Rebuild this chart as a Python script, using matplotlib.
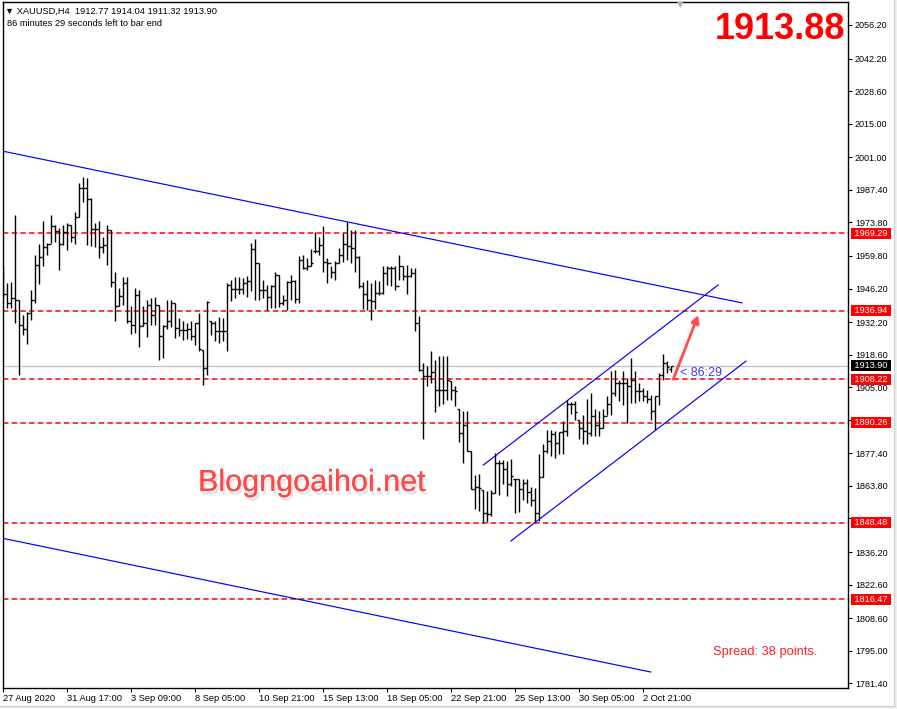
import numpy as np
import matplotlib
matplotlib.use('Agg')
from matplotlib import pyplot as plt
from matplotlib import transforms
from matplotlib import patheffects
from matplotlib.patches import Rectangle

plt.rcParams['font.family'] = ['Liberation Sans', 'DejaVu Sans']

# XAUUSD H4 bars
highs = [1955.4, 1948.5, 1949.1, 1977.0, 1941.5, 1935.2, 1936.6, 1945.7, 1960.3, 1964.8,
         1974.2, 1965.1, 1977.0, 1972.8, 1971.4, 1972.8, 1973.5, 1972.8, 1978.3, 1990.1,
         1992.9, 1992.2, 1983.9, 1973.5, 1974.2, 1967.9, 1972.8, 1970.7, 1953.3, 1946.4,
         1951.2, 1951.2, 1939.0, 1946.4, 1945.7, 1938.7, 1941.2, 1942.2, 1942.6, 1939.4,
         1931.1, 1941.5, 1941.2, 1940.1, 1933.9, 1932.5, 1931.8, 1932.5, 1931.8, 1935.9,
         1920.7, 1940.8, 1932.5, 1932.5, 1934.5, 1933.9, 1948.5, 1949.6, 1951.0, 1951.0,
         1950.6, 1951.3, 1965.2, 1966.8, 1956.8, 1949.9, 1947.8, 1947.8, 1952.9, 1952.0,
         1943.6, 1949.2, 1952.0, 1949.9, 1959.6, 1960.3, 1958.9, 1962.7, 1969.6, 1967.9,
         1972.4, 1958.9, 1955.4, 1957.5, 1963.1, 1969.3, 1973.8, 1970.7, 1970.7, 1959.6,
         1948.8, 1949.6, 1948.5, 1949.9, 1949.2, 1955.4, 1955.4, 1955.4, 1955.4, 1960.3,
         1955.4, 1956.1, 1954.7, 1954.7, 1934.6, 1915.1, 1913.7, 1920.0, 1916.5, 1917.9,
         1917.9, 1917.9, 1907.5, 1905.4, 1895.7, 1895.0, 1895.0, 1878.3, 1868.2, 1868.6,
         1862.3, 1861.6, 1862.3, 1877.6, 1874.5, 1874.8, 1874.1, 1875.1, 1866.5, 1866.8,
         1866.8, 1866.5, 1863.4, 1863.0, 1877.3, 1881.1, 1887.1, 1887.3, 1886.6, 1886.2,
         1890.8, 1899.6, 1898.7, 1899.1, 1891.2, 1893.6, 1900.1, 1902.4, 1895.7, 1895.0,
         1896.0, 1901.2, 1911.6, 1912.3, 1908.1, 1911.6, 1908.8, 1917.2, 1911.6, 1906.7,
         1904.6, 1904.0, 1901.9, 1901.2, 1910.9, 1919.0, 1915.8, 1914.04]
lows = [1942.2, 1938.0, 1938.0, 1931.8, 1910.2, 1926.9, 1923.1, 1933.2, 1940.1, 1948.2,
        1955.4, 1960.3, 1965.1, 1965.8, 1954.0, 1964.4, 1962.1, 1965.8, 1964.8, 1976.2,
        1982.5, 1964.4, 1964.0, 1963.5, 1958.9, 1961.0, 1956.1, 1946.8, 1932.5, 1938.7,
        1939.4, 1931.8, 1927.3, 1927.6, 1921.8, 1930.4, 1926.0, 1931.1, 1931.1, 1916.2,
        1917.2, 1929.3, 1930.1, 1925.5, 1926.2, 1924.6, 1925.1, 1924.8, 1922.7, 1920.0,
        1906.1, 1910.2, 1926.9, 1924.1, 1923.4, 1924.1, 1920.0, 1940.8, 1942.2, 1944.0,
        1944.0, 1942.6, 1945.0, 1941.5, 1941.3, 1942.2, 1937.4, 1938.1, 1938.1, 1938.5,
        1939.4, 1937.1, 1941.5, 1940.1, 1940.1, 1954.3, 1954.0, 1955.4, 1961.0, 1960.3,
        1953.3, 1948.5, 1950.6, 1949.9, 1956.8, 1957.1, 1958.2, 1956.8, 1952.9, 1946.4,
        1937.6, 1937.4, 1932.9, 1937.6, 1943.6, 1944.0, 1947.8, 1947.1, 1945.4, 1949.6,
        1949.9, 1944.0, 1951.0, 1928.3, 1911.7, 1883.2, 1905.4, 1906.8, 1894.6, 1897.1,
        1897.8, 1899.8, 1899.8, 1897.1, 1882.1, 1873.4, 1878.3, 1862.6, 1854.0, 1853.3,
        1848.4, 1848.7, 1851.2, 1860.9, 1859.8, 1864.4, 1859.5, 1863.7, 1852.6, 1852.9,
        1857.9, 1856.8, 1855.4, 1848.7, 1849.1, 1867.6, 1877.6, 1876.3, 1875.5, 1877.3,
        1877.3, 1884.8, 1894.0, 1891.2, 1883.2, 1881.5, 1881.5, 1884.6, 1884.8, 1884.8,
        1888.0, 1893.2, 1893.6, 1901.2, 1899.1, 1897.7, 1890.1, 1898.4, 1898.4, 1899.1,
        1899.1, 1898.4, 1891.4, 1887.0, 1897.7, 1908.1, 1910.9, 1911.32]
closes = [1944.0, 1940.1, 1942.2, 1941.5, 1931.1, 1929.4, 1935.9, 1941.5, 1956.1, 1959.3,
          1963.5, 1964.8, 1972.1, 1970.0, 1964.8, 1969.7, 1972.8, 1967.9, 1976.2, 1988.1,
          1988.1, 1983.5, 1971.0, 1971.0, 1963.5, 1964.4, 1970.7, 1949.1, 1938.7, 1942.9,
          1948.5, 1932.5, 1931.1, 1943.6, 1930.4, 1931.8, 1939.4, 1935.0, 1939.4, 1926.5,
          1930.7, 1932.5, 1940.1, 1929.7, 1929.0, 1929.0, 1929.3, 1926.2, 1931.8, 1921.0,
          1913.0, 1940.4, 1931.8, 1928.3, 1928.3, 1928.3, 1947.8, 1946.0, 1946.0, 1946.0,
          1948.5, 1949.2, 1962.7, 1956.8, 1945.4, 1945.4, 1942.6, 1947.1, 1952.0, 1940.1,
          1941.5, 1948.8, 1949.2, 1941.8, 1958.2, 1954.7, 1955.4, 1956.8, 1961.7, 1964.5,
          1957.1, 1956.8, 1953.3, 1956.8, 1960.3, 1964.9, 1964.1, 1963.1, 1959.3, 1947.1,
          1944.0, 1941.5, 1940.8, 1944.3, 1944.3, 1952.7, 1954.7, 1954.7, 1947.1, 1955.4,
          1951.3, 1951.3, 1952.7, 1931.8, 1912.1, 1909.6, 1909.6, 1911.2, 1904.0, 1903.7,
          1904.0, 1908.2, 1904.0, 1903.3, 1885.9, 1889.4, 1878.3, 1862.6, 1863.4, 1863.0,
          1852.3, 1851.9, 1860.9, 1873.4, 1873.4, 1870.7, 1864.4, 1867.9, 1866.5, 1862.6,
          1865.1, 1861.2, 1857.9, 1852.6, 1867.6, 1878.3, 1882.5, 1885.3, 1881.8, 1886.2,
          1886.6, 1898.2, 1897.8, 1894.6, 1888.0, 1886.6, 1885.9, 1892.9, 1889.4, 1888.0,
          1892.9, 1897.8, 1902.6, 1906.8, 1906.7, 1906.7, 1905.3, 1908.1, 1903.3, 1903.3,
          1901.2, 1900.1, 1894.9, 1901.2, 1910.2, 1915.3, 1913.4, 1913.90]
opens = [1950.0, 1944.0, 1940.1, 1942.2, 1941.5, 1931.1, 1929.4, 1935.9, 1941.5, 1956.1,
         1959.3, 1963.5, 1964.8, 1972.1, 1970.0, 1964.8, 1969.7, 1972.8, 1967.9, 1976.2,
         1988.1, 1988.1, 1983.5, 1971.0, 1971.0, 1963.5, 1964.4, 1970.7, 1949.1, 1938.7,
         1942.9, 1948.5, 1932.5, 1931.1, 1943.6, 1930.4, 1931.8, 1939.4, 1935.0, 1939.4,
         1926.5, 1930.7, 1932.5, 1940.1, 1929.7, 1929.0, 1929.0, 1929.3, 1926.2, 1931.8,
         1920.7, 1913.0, 1932.5, 1931.8, 1928.3, 1928.3, 1928.3, 1947.8, 1946.0, 1946.0,
         1946.0, 1948.5, 1949.2, 1962.7, 1956.8, 1945.4, 1945.4, 1942.6, 1947.1, 1952.0,
         1940.1, 1941.5, 1948.8, 1949.2, 1941.8, 1958.2, 1954.7, 1955.4, 1961.7, 1961.7,
         1964.5, 1957.1, 1956.8, 1953.3, 1956.8, 1960.3, 1964.9, 1964.1, 1963.1, 1959.3,
         1947.1, 1944.0, 1941.5, 1940.8, 1944.3, 1944.3, 1952.7, 1954.7, 1954.7, 1947.1,
         1955.4, 1951.3, 1951.3, 1952.7, 1931.8, 1912.1, 1909.6, 1909.6, 1911.2, 1904.0,
         1903.7, 1904.0, 1907.5, 1904.0, 1895.7, 1885.9, 1889.4, 1878.3, 1862.6, 1863.4,
         1862.3, 1852.3, 1851.9, 1860.9, 1873.4, 1873.4, 1870.7, 1864.4, 1866.5, 1866.5,
         1862.6, 1865.1, 1861.2, 1857.9, 1852.6, 1867.6, 1878.3, 1882.5, 1885.3, 1881.8,
         1886.2, 1886.6, 1898.2, 1897.8, 1891.2, 1888.0, 1886.6, 1885.9, 1892.9, 1889.4,
         1888.0, 1892.9, 1897.8, 1902.6, 1906.8, 1906.7, 1906.7, 1905.3, 1908.1, 1903.3,
         1903.3, 1901.2, 1900.1, 1894.9, 1901.2, 1910.2, 1915.3, 1912.77]

time_labels = ['27 Aug 2020', '31 Aug 17:00', '3 Sep 09:00', '8 Sep 05:00', '10 Sep 21:00',
               '15 Sep 13:00', '18 Sep 05:00', '22 Sep 21:00', '25 Sep 13:00',
               '30 Sep 05:00', '2 Oct 21:00']
time_label_bars = [0, 16, 32, 48, 64, 80, 96, 112, 128, 144, 160]

price_ticks = [2056.20, 2042.20, 2028.60, 2015.00, 2001.00, 1987.40, 1973.80, 1959.80,
               1946.20, 1932.20, 1918.60, 1905.00, 1891.40, 1877.40, 1863.80, 1850.20,
               1836.20, 1822.60, 1808.60, 1795.00, 1781.40]
# these two sit fully under the level boxes on the reference
hidden_ticks = [1891.40, 1850.20]

levels = [1969.29, 1936.94, 1908.22, 1890.26, 1848.48, 1816.47]
bid = 1913.90

# trend lines: (bar index, price) pairs
upper_trend = ([-0.33, 184.7], [2003.6, 1940.2])
lower_trend = ([-0.33, 161.9], [1842.0, 1786.1])
channel_top = ([120.0, 178.75], [1872.5, 1947.7])
channel_bottom = ([126.9, 185.7], [1840.8, 1915.9])
arrow_from = (167.5, 1908.3)
arrow_to = (173.75, 1935.1)

W, H = 897, 709
fig = plt.figure(figsize=(W / 100, H / 100), dpi=100)
fig.patch.set_facecolor('white')
ax = fig.add_axes([2.5 / W, 21 / H, 845.5 / W, 686 / H])

n = len(closes)
x = np.arange(n)
ax.vlines(x, lows, highs, color='black', lw=1.0, zorder=4)
ax.hlines(opens, x - 0.45, x, color='black', lw=1.0, zorder=4)
ax.hlines(closes, x, x + 0.45, color='black', lw=1.0, zorder=4)

for lv in levels:
    ax.axhline(lv, color='#ff0000', lw=1.1, linestyle=(0, (3.5, 2.2)), zorder=2)
ax.axhline(bid, color='#c0c0c0', lw=0.9, zorder=1)

for xs, ys in (upper_trend, lower_trend, channel_top, channel_bottom):
    ax.plot(xs, ys, color='#0000ff', lw=0.85, zorder=3)

ax.annotate('', xy=arrow_to, xytext=arrow_from,
            arrowprops=dict(arrowstyle='-|>', color='#ff4b4b', lw=2.0, mutation_scale=11,
                            shrinkA=0, shrinkB=0,
                            path_effects=[patheffects.withSimplePatchShadow(offset=(2, -2), alpha=0.2)]),
            zorder=6)
ax.text(169.2, 1910.9, '< 86:29', color='#3a3aff', fontsize=9, ha='left', va='center', zorder=6)

ax.set_xlim(-0.2, 211.2)
ax.set_ylim(1779.44, 2065.8)

ax.set_xticks(time_label_bars)
ax.set_xticklabels(time_labels, ha='left', fontsize=6.7)
ax.set_yticks(price_ticks)
ax.set_yticklabels(['' if p in hidden_ticks else '%.2f' % p for p in price_ticks], fontsize=6.5)
ax.yaxis.tick_right()
ax.tick_params(axis='y', direction='out', length=3, width=0.8, pad=2)
ax.tick_params(axis='x', direction='out', length=3, width=0.8, pad=1.5)
for sp in ax.spines.values():
    sp.set_color('black')
    sp.set_linewidth(1.0)

trans = transforms.blended_transform_factory(ax.transAxes, ax.transData)
box_kw = dict(transform=trans, color='white', fontsize=6.6, ha='left', va='center',
              clip_on=False, zorder=10)
for lv in levels:
    ax.text(1.0045, lv, ' %.2f ' % lv,
            bbox=dict(boxstyle='square,pad=0.12', fc='#ff0000', ec='none'), **box_kw)
ax.text(1.0045, bid, ' %.2f ' % bid,
        bbox=dict(boxstyle='square,pad=0.12', fc='black', ec='none'), **box_kw)

# header and overlays
fig.text(5 / W, 1 - 11 / H, '\u25bc XAUUSD,H4  1912.77 1914.04 1911.32 1913.90',
         fontsize=6.7, va='center', ha='left', family=['Liberation Sans', 'DejaVu Sans'])
fig.text(7 / W, 1 - 24 / H, '86 minutes 29 seconds left to bar end',
         fontsize=6.7, va='center', ha='left')
fig.text(845 / W, 1 - 39 / H, '1913.88', color='#ff0000', fontsize=26, fontweight='bold',
         ha='right', va='baseline')
fig.text(198 / W, 1 - 491 / H, 'Blogngoaihoi.net', color='#ff4848', fontsize=22,
         ha='left', va='baseline',
         path_effects=[patheffects.withSimplePatchShadow(offset=(1.5, -2.5), alpha=0.12),
                       patheffects.Normal()])
fig.text(713 / W, 1 - 654.5 / H, 'Spread: 38 points.', color='#ff2020', fontsize=9.3,
         ha='left', va='baseline')
fig.text(680 / W, 1 - 5 / H, '\u25bc', color='#b0b0b0', fontsize=6, ha='center', va='center',
         family=['DejaVu Sans'])

# window edges
fig.patches.append(Rectangle((894 / W, 0), 3 / W, 1, transform=fig.transFigure,
                             fc='#f0f0f0', ec='none'))
fig.patches.append(Rectangle((0, 0), 1, 3 / H, transform=fig.transFigure,
                             fc='#f0f0f0', ec='none'))
fig.add_artist(plt.Line2D([894 / W, 894 / W], [3 / H, 1], transform=fig.transFigure,
                          color='#d0d0d0', lw=1))
fig.add_artist(plt.Line2D([0, 894 / W], [3 / H, 3 / H], transform=fig.transFigure,
                          color='#d0d0d0', lw=1))

fig.savefig('out.png', dpi=100)
